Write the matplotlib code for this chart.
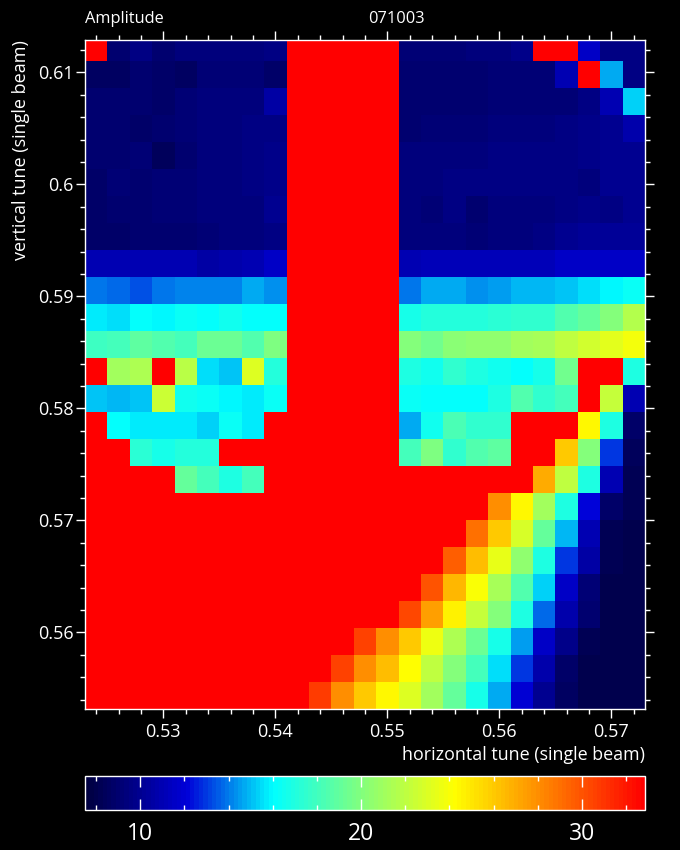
import matplotlib
matplotlib.use('Agg')
import matplotlib.pyplot as plt
import numpy as np
from matplotlib.colors import LinearSegmentedColormap
from matplotlib.ticker import MultipleLocator, FormatStrFormatter

R = 33.0

# amplitude per cell, top row first
row00 = [R, 9.0, 9.5, 9.0, 9.3, 9.3, 9.3, 9.3, 9.6, R, R, R, R, R, 9.1, 9.1, 9.2, 9.3, 9.3, 9.8, R, R, 11.5, 9.5, 9.5]
row01 = [8.5, 8.5, 8.9, 8.8, 8.5, 9.2, 9.2, 9.2, 8.8, R, R, R, R, R, 9.0, 9.0, 8.9, 9.0, 9.2, 9.2, 9.2, 11.0, R, 14.7, 9.5]
row02 = [9.0, 9.0, 8.9, 8.8, 9.2, 9.3, 9.3, 9.4, 10.5, R, R, R, R, R, 9.0, 9.0, 9.0, 9.0, 9.2, 9.2, 9.2, 9.1, 9.6, 11.0, 15.4]
row03 = [9.0, 9.0, 8.8, 9.0, 9.2, 9.3, 9.3, 9.5, 9.6, R, R, R, R, R, 9.0, 9.1, 9.2, 9.2, 9.3, 9.3, 9.3, 9.5, 9.8, 10.0, 10.8]
row04 = [8.9, 8.9, 9.2, 8.3, 8.9, 9.3, 9.3, 9.6, 9.8, R, R, R, R, R, 9.4, 9.4, 9.4, 9.4, 9.5, 9.5, 9.5, 9.6, 9.7, 10.0, 10.0]
row05 = [8.8, 9.1, 9.0, 9.1, 9.1, 9.4, 9.4, 9.6, 9.8, R, R, R, R, R, 9.4, 9.4, 9.5, 9.5, 9.5, 9.5, 9.5, 9.6, 9.4, 9.9, 10.0]
row06 = [8.8, 9.0, 8.9, 9.1, 9.1, 9.3, 9.3, 9.4, 9.9, R, R, R, R, R, 9.3, 9.2, 9.5, 9.0, 9.4, 9.4, 9.4, 9.6, 9.8, 9.5, 10.0]
row07 = [8.7, 8.8, 9.0, 9.0, 8.9, 9.1, 9.3, 9.4, 9.5, R, R, R, R, R, 9.3, 9.3, 9.4, 9.1, 9.3, 9.3, 9.5, 10.0, 10.1, 10.1, 10.2]
row08 = [10.9, 10.9, 11.0, 11.0, 11.0, 10.6, 10.7, 10.9, 11.6, R, R, R, R, R, 11.0, 11.2, 11.2, 11.2, 11.2, 11.2, 11.2, 11.6, 11.6, 11.6, 11.6]
row09 = [14.0, 13.7, 13.4, 13.9, 14.1, 14.1, 14.2, 14.8, 14.3, R, R, R, R, R, 13.9, 14.7, 14.7, 14.3, 14.6, 14.9, 15.0, 15.2, 15.6, 16.0, 16.4]
row10 = [15.7, 15.5, 16.1, 15.9, 16.3, 16.2, 16.6, 16.1, 16.2, R, R, R, R, R, 16.7, 17.2, 17.2, 17.1, 17.3, 17.6, 17.6, 18.5, 19.0, 20.0, 21.6]
row11 = [17.8, 18.0, 18.8, 18.5, 18.0, 19.2, 19.2, 18.4, 19.8, R, R, R, R, R, 20.0, 19.5, 20.3, 20.5, 20.5, 21.0, 21.2, 22.0, 22.6, 23.3, 23.8]
row12 = [R, 21.0, 21.5, R, 21.9, 15.6, 15.2, 23.1, 17.2, R, R, R, R, R, 17.0, 16.5, 17.5, 17.0, 16.5, 16.2, 16.8, 19.5, R, R, 17.0]
row13 = [15.2, 14.9, 15.1, 22.5, 16.5, 16.3, 16.0, 15.8, 16.4, R, R, R, R, R, 16.3, 16.2, 16.1, 16.2, 16.9, 18.5, 17.6, 18.0, R, 22.2, 11.0]
row14 = [R, 16.1, 15.8, 15.8, 15.7, 15.4, 16.3, 15.8, R, R, R, R, R, R, 14.7, 16.5, 18.3, 17.5, 17.5, R, R, R, 24.5, 17.0, 8.8]
row15 = [R, R, 17.3, 16.8, 17.2, 17.2, R, R, R, R, R, R, R, R, 18.0, 19.8, 17.5, 18.5, 18.8, R, R, 26.0, 20.0, 13.0, 8.3]
row16 = [R, R, R, R, 19.0, 18.0, 16.9, 18.0, R, R, R, R, R, R, R, R, R, R, R, R, 27.0, 22.0, 17.0, 11.0, 8.2]
row17 = [R, R, R, R, R, R, R, R, R, R, R, R, R, R, R, R, R, R, 28.0, 24.5, 21.0, 17.0, 12.2, 8.8, 8.2]
row18 = [R, R, R, R, R, R, R, R, R, R, R, R, R, R, R, R, R, 29.0, 26.0, 22.8, 19.0, 15.0, 11.0, 8.2, 8.0]
row19 = [R, R, R, R, R, R, R, R, R, R, R, R, R, R, R, R, 29.5, 26.5, 23.5, 20.5, 17.0, 13.0, 10.5, 8.2, 8.0]
row20 = [R, R, R, R, R, R, R, R, R, R, R, R, R, R, R, 30.0, 26.7, 24.0, 21.3, 18.5, 15.3, 11.5, 9.2, 8.0, 8.0]
row21 = [R, R, R, R, R, R, R, R, R, R, R, R, R, R, 30.3, 27.5, 24.6, 22.3, 20.0, 17.0, 13.7, 10.8, 9.0, 8.0, 8.0]
row22 = [R, R, R, R, R, R, R, R, R, R, R, R, 30.5, 28.0, 26.0, 23.7, 21.5, 19.2, 16.8, 14.5, 11.5, 9.7, 8.2, 8.0, 8.0]
row23 = [R, R, R, R, R, R, R, R, R, R, R, 30.5, 28.0, 26.5, 24.3, 22.0, 20.0, 18.0, 15.5, 13.0, 10.8, 8.8, 8.0, 8.0, 8.0]
row24 = [R, R, R, R, R, R, R, R, R, R, 30.8, 28.0, 26.0, 24.5, 23.0, 21.0, 19.0, 16.7, 14.7, 12.0, 10.0, 8.5, 8.0, 8.0, 8.0]

rows = [row00, row01, row02, row03, row04, row05, row06, row07, row08, row09, row10, row11, row12,
        row13, row14, row15, row16, row17, row18, row19, row20, row21, row22, row23, row24]

vmin = 7.5
vmax = 32.85
x_lim = (0.523, 0.573)
y_lim = (0.5532, 0.6129)

amp = np.array(rows[::-1])
x_edges = 0.523 + 0.002 * np.arange(26)
y_edges = 0.5532 + 0.00241 * np.arange(26)

stops = [(0.0, (0, 0, 0.25)), (0.18, (0, 0, 0.85)), (0.335, (0, 1, 1)),
         (0.49, (0.5, 1, 0.5)), (0.66, (1, 1, 0)), (1.0, (1, 0, 0))]
cmap = LinearSegmentedColormap.from_list('amp', stops, N=128)

plt.rcParams['font.family'] = ['Open Sans', 'DejaVu Sans']
W, H = 680, 850
fig = plt.figure(figsize=(W / 100, H / 100), dpi=100, facecolor='black')

ax = fig.add_axes([85 / W, 1 - 708.5 / H, 560 / W, 668.5 / H], facecolor='black')
mesh = ax.pcolormesh(x_edges, y_edges, amp, cmap=cmap, vmin=vmin, vmax=vmax)
ax.set_xlim(x_lim)
ax.set_ylim(y_lim)

ax.xaxis.set_major_locator(MultipleLocator(0.01))
ax.xaxis.set_minor_locator(MultipleLocator(0.002))
ax.yaxis.set_major_locator(MultipleLocator(0.01))
ax.yaxis.set_minor_locator(MultipleLocator(0.002))
ax.xaxis.set_major_formatter(FormatStrFormatter('%g'))
ax.yaxis.set_major_formatter(FormatStrFormatter('%g'))
ax.tick_params(which='both', direction='out', top=True, right=True, colors='white', width=1)
ax.tick_params(which='major', length=6.2, labelsize=13)
ax.tick_params(axis='x', which='major', pad=4)
ax.tick_params(axis='y', which='major', pad=2)
ax.tick_params(which='minor', length=3.3)
for s in ax.spines.values():
    s.set_color('white')
    s.set_linewidth(1)

fig.text(85 / W, 1 - 23 / H, 'Amplitude', color='white', fontsize=11.8, ha='left', va='baseline')
fig.text(368 / W, 1 - 23 / H, '071003', color='white', fontsize=11.8, ha='left', va='baseline')
fig.text(21 / W, 1 - 40 / H, 'vertical tune (single beam)', color='white', fontsize=13,
         rotation=90, ha='center', va='top')
fig.text(645 / W, 1 - 760 / H, 'horizontal tune (single beam)', color='white', fontsize=12.9,
         ha='right', va='baseline')

cax = fig.add_axes([85 / W, 1 - 810 / H, 560 / W, 34 / H])
cb = fig.colorbar(mesh, cax=cax, orientation='horizontal', ticks=[10, 20, 30])
cax.xaxis.set_minor_locator(MultipleLocator(2))
cax.tick_params(which='both', direction='in', top=True, bottom=True, colors='white', width=1)
cax.tick_params(which='major', length=8, labelsize=16.5, pad=9)
cax.tick_params(which='minor', length=3.6)
cb.outline.set_edgecolor('white')
cb.outline.set_linewidth(1)

fig.savefig('out.png', dpi=100, facecolor='black')
